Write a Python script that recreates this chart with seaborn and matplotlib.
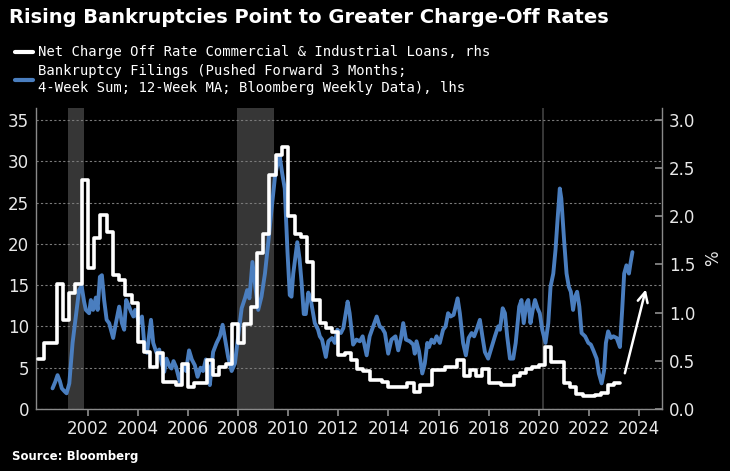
import numpy as np
import matplotlib
matplotlib.use("Agg")
import matplotlib.pyplot as plt
import seaborn as sns
from matplotlib.lines import Line2D

# ---- data ----
# net charge-off rate, C&I loans (%), quarterly 2000Q1 .. 2023Q1 (rhs)
nco_quarters = [f"{y}Q{q}" for y in range(2000, 2024) for q in range(1, 5)][:93]
nco_rate = [
    0.52, 0.68, 0.68, 1.30,
    0.92, 1.20, 1.30, 2.38,
    1.46, 1.77, 2.01, 1.84,
    1.39, 1.34, 1.18, 1.10,
    0.70, 0.59, 0.44, 0.58,
    0.28, 0.28, 0.25, 0.47,
    0.23, 0.27, 0.27, 0.51,
    0.35, 0.44, 0.47, 0.88,
    0.68, 0.88, 1.06, 1.62,
    1.82, 2.43, 2.64, 2.72,
    2.00, 1.82, 1.79, 1.53,
    1.13, 0.89, 0.84, 0.80,
    0.56, 0.58, 0.51, 0.42,
    0.39, 0.30, 0.30, 0.28,
    0.23, 0.23, 0.23, 0.27,
    0.18, 0.25, 0.25, 0.40,
    0.40, 0.44, 0.44, 0.51,
    0.34, 0.40, 0.34, 0.42,
    0.27, 0.27, 0.25, 0.25,
    0.34, 0.37, 0.42, 0.44,
    0.46, 0.64, 0.49, 0.49,
    0.27, 0.23, 0.16, 0.13,
    0.13, 0.15, 0.17, 0.25,
    0.27,
]

# bankruptcy filings (4wk sum, 12wk MA, pushed fwd 3m) (lhs)
bk_years = [
    2000.59, 2000.70, 2000.79, 2000.88, 2000.96, 2001.08, 2001.15, 2001.26, 2001.39, 2001.52,
    2001.65, 2001.75, 2001.85, 2001.92, 2002.05, 2002.12, 2002.21, 2002.32, 2002.39, 2002.48,
    2002.56, 2002.65, 2002.75, 2002.85, 2003.01, 2003.12, 2003.25, 2003.36, 2003.45, 2003.53,
    2003.62, 2003.72, 2003.82, 2003.89, 2004.05, 2004.16, 2004.25, 2004.36, 2004.52, 2004.61,
    2004.74, 2004.85, 2004.95, 2005.05, 2005.14, 2005.27, 2005.34, 2005.42, 2005.52, 2005.67,
    2005.80, 2005.92, 2006.04, 2006.15, 2006.27, 2006.38, 2006.50, 2006.60, 2006.71, 2006.80,
    2006.87, 2007.00, 2007.14, 2007.27, 2007.38, 2007.47, 2007.60, 2007.74, 2007.87, 2008.00,
    2008.14, 2008.27, 2008.36, 2008.45, 2008.57, 2008.67, 2008.80, 2008.93, 2009.07, 2009.20,
    2009.33, 2009.47, 2009.60, 2009.66, 2009.76, 2009.86, 2009.97, 2010.06, 2010.13, 2010.20,
    2010.36, 2010.45, 2010.53, 2010.62, 2010.70, 2010.80, 2010.90, 2011.06, 2011.19, 2011.26,
    2011.35, 2011.50, 2011.60, 2011.75, 2011.86, 2011.96, 2012.10, 2012.20, 2012.37, 2012.45,
    2012.59, 2012.72, 2012.86, 2012.97, 2013.13, 2013.25, 2013.39, 2013.53, 2013.65, 2013.75,
    2013.86, 2013.99, 2014.12, 2014.28, 2014.39, 2014.50, 2014.59, 2014.70, 2014.85, 2014.99,
    2015.05, 2015.12, 2015.22, 2015.35, 2015.45, 2015.55, 2015.62, 2015.72, 2015.82, 2015.92,
    2016.05, 2016.18, 2016.28, 2016.38, 2016.48, 2016.60, 2016.65, 2016.76, 2016.85, 2016.98,
    2017.09, 2017.20, 2017.32, 2017.42, 2017.52, 2017.65, 2017.75, 2017.85, 2017.98, 2018.12,
    2018.25, 2018.38, 2018.45, 2018.56, 2018.65, 2018.74, 2018.85, 2018.98, 2019.08, 2019.22,
    2019.31, 2019.40, 2019.51, 2019.58, 2019.67, 2019.76, 2019.85, 2019.95, 2020.04, 2020.14,
    2020.27, 2020.38, 2020.47, 2020.58, 2020.67, 2020.75, 2020.84, 2020.90, 2021.01, 2021.11,
    2021.20, 2021.28, 2021.37, 2021.45, 2021.53, 2021.62, 2021.71, 2021.85, 2021.98, 2022.08,
    2022.18, 2022.31, 2022.40, 2022.51, 2022.61, 2022.68, 2022.77, 2022.88, 2022.98, 2023.11,
    2023.24, 2023.33, 2023.41, 2023.50, 2023.60, 2023.66, 2023.74,
]
bk_filings = [
    2.5, 3.3, 4.1, 3.4, 2.5, 2.1, 1.9, 3.1, 8.0, 11.2,
    14.4, 14.9, 13.0, 12.0, 11.6, 13.2, 12.0, 13.5, 12.0, 16.0,
    16.2, 13.2, 10.8, 10.4, 8.6, 10.4, 12.4, 10.4, 9.6, 13.2,
    12.6, 11.8, 11.2, 12.0, 10.4, 11.2, 8.0, 6.8, 10.8, 8.0,
    6.8, 7.2, 5.5, 4.5, 6.1, 5.1, 4.9, 5.8, 5.1, 3.3,
    5.3, 4.6, 7.1, 6.0, 5.3, 3.9, 5.0, 4.6, 6.0, 5.1,
    2.9, 6.9, 8.0, 8.8, 10.2, 8.6, 6.3, 4.6, 5.5, 8.8,
    12.2, 13.4, 14.4, 13.4, 17.8, 15.2, 12.0, 13.6, 16.4, 20.1,
    24.1, 28.1, 30.2, 30.6, 28.5, 26.7, 19.0, 13.8, 13.6, 16.4,
    20.2, 18.2, 15.4, 11.5, 11.5, 14.1, 13.2, 10.4, 9.6, 8.8,
    8.4, 6.3, 8.2, 8.6, 8.0, 9.6, 9.2, 9.8, 13.0, 11.6,
    7.8, 8.4, 8.2, 8.8, 6.5, 8.8, 10.0, 11.2, 10.0, 9.8,
    9.2, 6.7, 8.4, 8.8, 7.1, 8.6, 10.4, 8.4, 8.2, 7.8,
    6.7, 8.2, 7.0, 4.3, 5.5, 8.0, 7.5, 8.4, 8.0, 8.8,
    8.0, 9.6, 10.0, 11.6, 11.2, 11.4, 12.0, 13.4, 11.6, 8.0,
    6.5, 8.6, 9.2, 8.8, 9.6, 10.8, 8.8, 6.9, 6.1, 7.5,
    8.8, 10.0, 9.6, 12.2, 11.6, 8.8, 6.1, 6.1, 8.0, 12.4,
    13.2, 10.4, 12.8, 13.2, 10.4, 12.0, 13.2, 12.2, 11.6, 9.6,
    8.0, 10.4, 14.8, 16.4, 19.3, 22.9, 26.7, 25.5, 20.5, 16.4,
    14.8, 14.2, 12.0, 13.6, 14.2, 12.4, 9.2, 8.8, 8.0, 7.8,
    7.1, 6.1, 4.3, 3.1, 4.7, 8.0, 9.4, 8.6, 8.8, 8.6,
    7.5, 12.0, 16.4, 17.4, 16.4, 17.6, 19.0,
]

# NBER recessions (shaded)
recessions = [(2001.20, 2001.85), (2007.95, 2009.45), (2020.12, 2020.20)]

BLUE = "#4a7ebf"
GREY = "#8a8a8a"
TXT = "#e8e8e8"

sns.set_theme(style="dark")
plt.rcParams["font.family"] = ["DejaVu Sans"]

# quarter label -> decimal year; repeat last value so the final step is drawn
q_x = [int(q[:4]) + (int(q[-1]) - 1) * 0.25 for q in nco_quarters]
q_x = q_x + [q_x[-1] + 0.25]
q_y = nco_rate + [nco_rate[-1]]

fig = plt.figure(figsize=(7.3, 4.71), dpi=100, facecolor="black")
ax = fig.add_axes([36 / 730, 62 / 471, 626 / 730, 301 / 471])
ax.set_facecolor("black")
ax2 = ax.twinx()

for a, b in recessions:
    ax.axvspan(a, b, color="#363636", lw=0, zorder=0)

sns.lineplot(x=bk_years, y=bk_filings, ax=ax, color=BLUE, linewidth=2.8, legend=False)
sns.lineplot(x=q_x, y=q_y, ax=ax2, color="white", linewidth=2.6,
             drawstyle="steps-post", legend=False)

ax.set_xlim(1999.93, 2024.92)
ax.set_ylim(0, 36.45)
ax2.set_ylim(0, 36.45 * 3 / 35)
ax.set_xticks(range(2002, 2025, 2))
ax.set_yticks(range(0, 36, 5))
ax2.set_yticks(np.arange(0, 3.01, 0.5))
ax2.set_yticklabels([f"{v:.1f}" for v in np.arange(0, 3.01, 0.5)])

ax.yaxis.grid(True, color="#7a7a7a", linestyle=(0, (2, 2)), linewidth=0.8)
ax.xaxis.grid(False)
ax2.grid(False)

for a in (ax, ax2):
    for s in a.spines.values():
        s.set_visible(False)
ax.spines["left"].set_visible(True)
ax.spines["bottom"].set_visible(True)
ax2.spines["right"].set_visible(True)
for s in (ax.spines["left"], ax.spines["bottom"], ax2.spines["right"]):
    s.set_color(GREY)
    s.set_linewidth(1)

ax.tick_params(axis="y", length=0, pad=5, labelsize=12, labelcolor=TXT)
ax.tick_params(axis="x", direction="out", length=5, color=GREY, labelsize=12,
               labelcolor=TXT, pad=3)
ax.tick_params(bottom=True)
ax2.tick_params(axis="y", direction="in", length=5, color=GREY, labelsize=12,
                labelcolor=TXT, pad=5, right=True)
ax.set_xlabel("")
ax.set_ylabel("")
ax2.set_ylabel("%", color=TXT, fontsize=12, labelpad=6)

ax.annotate("", xy=(2024.3, 14.8), xytext=(2023.41, 4.0),
            arrowprops=dict(arrowstyle="->,head_length=0.6,head_width=0.3",
                            color="white", lw=1.8))

fig.text(0.012, 0.962, "Rising Bankruptcies Point to Greater Charge-Off Rates",
         color="white", fontsize=14, fontweight="bold", va="center")

handles = [Line2D([], [], color="white", lw=3), Line2D([], [], color=BLUE, lw=3)]
labels = ["Net Charge Off Rate Commercial & Industrial Loans, rhs",
          "Bankruptcy Filings (Pushed Forward 3 Months;\n"
          "4-Week Sum; 12-Week MA; Bloomberg Weekly Data), lhs"]
fig.legend(handles, labels, loc="upper left", bbox_to_anchor=(0.004, 0.93),
           frameon=False, handlelength=1.3, handletextpad=0.35, labelspacing=0.35,
           labelcolor="white", prop=dict(family="DejaVu Sans Mono", size=10))

fig.text(0.016, 0.03, "Source: Bloomberg", color="white", fontsize=8.5,
         fontweight="bold", va="center")

fig.savefig("out.png", dpi=100, facecolor="black")
